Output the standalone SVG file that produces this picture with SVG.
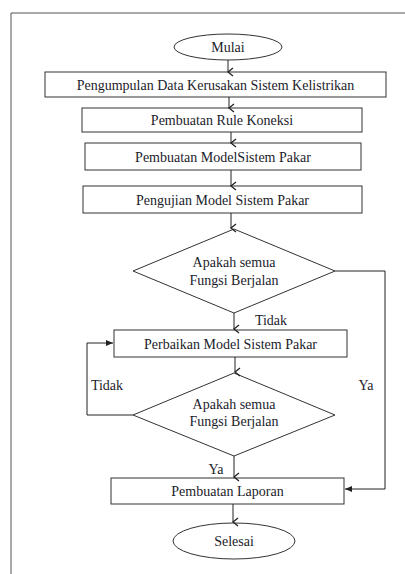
<svg xmlns="http://www.w3.org/2000/svg" width="405" height="574" viewBox="0 0 405 574">
<style>
.s{fill:#fff;stroke:#333;stroke-width:1}
.t{font-family:"Liberation Serif","Times New Roman",Times,serif;font-size:14px;fill:#1c1c2a;text-anchor:middle}
.c{fill:none;stroke:#222;stroke-width:1}
</style>
<defs>
<marker id="open" markerWidth="10" markerHeight="10" refX="5" refY="8" orient="auto" markerUnits="userSpaceOnUse" viewBox="0 0 10 10">
<path d="M1,3 L5,8 L9,3" fill="none" stroke="#222" stroke-width="1.3"/>
</marker>
<marker id="fill" markerWidth="8" markerHeight="8" refX="7" refY="4" orient="auto" markerUnits="userSpaceOnUse" viewBox="0 0 8 8">
<path d="M0,1 L7,4 L0,7 Z" fill="#222"/>
</marker>
</defs>
<rect width="405" height="574" fill="#fff"/>
<path d="M11,574 V13 H405" fill="none" stroke="#555" stroke-width="1"/>
<g id="mulai"><ellipse class="s" cx="228" cy="47" rx="54" ry="13"/><text class="t" x="228" y="52">Mulai</text></g>
<g id="pengumpulan"><rect class="s" x="45" y="72" width="341" height="25"/><text class="t" x="215.5" y="89.5">Pengumpulan Data Kerusakan Sistem Kelistrikan</text></g>
<g id="rule"><rect class="s" x="82" y="108" width="280" height="24"/><text class="t" x="222" y="125">Pembuatan Rule Koneksi</text></g>
<g id="model"><rect class="s" x="85" y="143" width="276" height="27"/><text class="t" x="223" y="161.5">Pembuatan ModelSistem Pakar</text></g>
<g id="pengujian"><rect class="s" x="83" y="186" width="279" height="27"/><text class="t" x="222.5" y="204.5">Pengujian Model Sistem Pakar</text></g>
<g id="keputusan1"><path class="s" d="M234,229 L335,271 L234,313 L133,271 Z"/><text class="t" x="234" y="266.5">Apakah semua</text><text class="t" x="234" y="284.5">Fungsi Berjalan</text></g>
<g id="perbaikan"><rect class="s" x="114" y="330" width="233" height="27"/><text class="t" x="230.5" y="348.5">Perbaikan Model Sistem Pakar</text></g>
<g id="keputusan2"><path class="s" d="M234,373 L335,415 L234,456 L133,415 Z"/><text class="t" x="234" y="408.5">Apakah semua</text><text class="t" x="234" y="425.5">Fungsi Berjalan</text></g>
<g id="laporan"><rect class="s" x="111" y="478" width="233" height="26"/><text class="t" x="227.5" y="496">Pembuatan Laporan</text></g>
<g id="selesai"><ellipse class="s" cx="234" cy="541" rx="61" ry="18"/><text class="t" x="234" y="546">Selesai</text></g>
<g id="connectors">
<path class="c" d="M228,60 V72" marker-end="url(#open)"/>
<path class="c" d="M229,97 V108" marker-end="url(#open)"/>
<path class="c" d="M231,132 V143" marker-end="url(#open)"/>
<path class="c" d="M231,170 V186" marker-end="url(#open)"/>
<path class="c" d="M231,213 V228" marker-end="url(#open)"/>
<path class="c" d="M234,313 V329" marker-end="url(#open)"/>
<path class="c" d="M235,357 V372" marker-end="url(#open)"/>
<path class="c" d="M234,456 V477" marker-end="url(#open)"/>
<path class="c" d="M233,504 V522" marker-end="url(#open)"/>
<path class="c" d="M335,271 H385 V489 H345" marker-end="url(#fill)"/>
<path class="c" d="M133,415 H87 V343 H113" marker-end="url(#fill)"/>
<text class="t" x="271" y="324.5">Tidak</text>
<text class="t" x="107" y="389.5">Tidak</text>
<text class="t" x="366" y="389.5">Ya</text>
<text class="t" x="216" y="473.5">Ya</text>
</g>
</svg>
